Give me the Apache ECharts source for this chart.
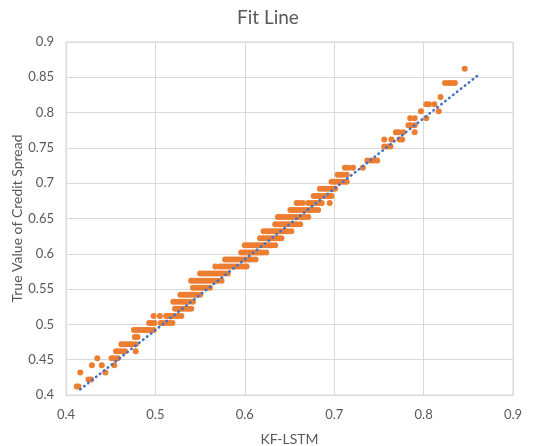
<!DOCTYPE html>
<html>
<head>
<meta charset="utf-8">
<script src="https://cdn.jsdelivr.net/npm/echarts@6/dist/echarts.min.js"></script>
<style>html,body{margin:0;padding:0;background:#fff}#c{width:540px;height:446px}</style>
</head>
<body>
<div id="c"></div>
<script>
// y levels (true value) and the KF-LSTM predictions in each row
const rowLevels = [0.412,0.422,0.432,0.442,0.452,0.462,0.472,0.482,0.492,0.502,0.512,0.522,0.532,0.542,0.552,0.562,0.572,0.582,0.592,0.602,0.612,0.622,0.632,0.642,0.652,0.662,0.672,0.682,0.692,0.702,0.712,0.722,0.732,0.752,0.762,0.772,0.782,0.792,0.802,0.812,0.822,0.842,0.862];
const rowPredictions = [
  [0.412,0.414],
  [0.425,0.428],
  [0.416,0.444],
  [0.429,0.440,0.454],
  [0.435,0.451,0.454,0.458],
  [0.456,0.459,0.462,0.466,0.478],
  [0.462,0.465,0.468,0.471,0.474,0.478],
  [0.477,0.480],
  [0.476,0.479,0.482,0.485,0.488,0.491,0.494,0.498],
  [0.493,0.496,0.499,0.506,0.509,0.512,0.516,0.519],
  [0.498,0.505,0.512,0.515,0.518,0.521,0.525,0.529],
  [0.522,0.525,0.528,0.531,0.534,0.537,0.540],
  [0.520,0.523,0.526,0.529,0.532,0.535,0.538,0.542],
  [0.528,0.531,0.534,0.537,0.540,0.543,0.546,0.550],
  [0.542,0.545,0.548,0.551,0.554,0.557,0.561],
  [0.540,0.543,0.546,0.549,0.552,0.555,0.558,0.561,0.564,0.567,0.570,0.574],
  [0.550,0.553,0.556,0.559,0.562,0.565,0.568,0.571,0.574,0.577,0.581],
  [0.567,0.572,0.575,0.578,0.581,0.584,0.587,0.590,0.593,0.596,0.599,0.602],
  [0.578,0.581,0.584,0.587,0.590,0.593,0.596,0.599,0.602,0.605,0.608,0.612],
  [0.596,0.599,0.602,0.605,0.608,0.611,0.614,0.617,0.620,0.624],
  [0.600,0.603,0.606,0.609,0.612,0.615,0.618,0.621,0.624,0.627,0.630,0.634],
  [0.617,0.620,0.623,0.626,0.629,0.632,0.635,0.638,0.641],
  [0.621,0.624,0.627,0.630,0.633,0.636,0.639,0.642,0.645,0.648,0.652],
  [0.634,0.637,0.640,0.643,0.646,0.649,0.652,0.655,0.658,0.662],
  [0.637,0.640,0.643,0.646,0.649,0.652,0.655,0.658,0.661,0.664,0.667,0.671],
  [0.651,0.654,0.657,0.660,0.663,0.666,0.669,0.672,0.675,0.678,0.682],
  [0.658,0.661,0.665,0.671,0.674,0.677,0.680,0.683,0.686,0.695],
  [0.677,0.680,0.683,0.686,0.689,0.692,0.695,0.697],
  [0.684,0.687,0.690,0.693,0.696,0.699,0.701],
  [0.697,0.700,0.703,0.706,0.709,0.712,0.714],
  [0.704,0.707,0.710,0.714],
  [0.712,0.716,0.721,0.732],
  [0.737,0.741,0.744,0.748],
  [0.756,0.760,0.763],
  [0.756,0.764,0.773,0.776],
  [0.769,0.772,0.777,0.790],
  [0.783,0.786,0.790],
  [0.785,0.790,0.803],
  [0.797,0.817],
  [0.803,0.806,0.812],
  [0.819],
  [0.824,0.828,0.831,0.835],
  [0.846]
];
// fitted trend line end points
const fitX = [0.416, 0.863];
const fitY = [0.408, 0.855];
const axisTicks = [0.4, 0.5, 0.6, 0.7, 0.8, 0.9];

const scatterData = [];
rowLevels.forEach((y, i) => rowPredictions[i].forEach(x => scatterData.push([x, y])));
const fitData = fitX.map((x, i) => [x, fitY[i]]);

const chart = echarts.init(document.getElementById('c'), null, {renderer: 'canvas'});
const font = 'Lato, "Open Sans", sans-serif';
chart.setOption({
  animation: false,
  backgroundColor: '#fff',
  title: {
    text: 'Fit Line', left: 232, top: 3,
    textStyle: {fontFamily: font, fontSize: 19, fontWeight: 'normal', color: '#595959'}
  },
  grid: {left: 66, right: 27, top: 42, bottom: 51, show: true, borderColor: '#d9d9d9', borderWidth: 1,
    outerBoundsMode: 'none', containLabel: false},
  xAxis: {
    type: 'value', min: 0.4, max: 0.9, interval: 0.1,
    name: 'KF-LSTM', nameLocation: 'middle', nameGap: 37, nameMoveOverlap: false,
    nameTextStyle: {fontFamily: font, fontSize: 14, color: '#595959'},
    axisLine: {show: true, lineStyle: {color: '#d9d9d9'}},
    axisTick: {show: false},
    splitLine: {show: true, lineStyle: {color: '#d9d9d9', width: 1}},
    axisLabel: {fontFamily: font, fontSize: 13, color: '#595959', margin: 13,
      formatter: v => { const t = axisTicks.find(a => Math.abs(a - v) < 1e-6); return t === undefined ? '' : String(t); }}
  },
  yAxis: {
    type: 'value', min: 0.4, max: 0.9, interval: 0.05,
    name: 'True Value of Credit Spread', nameLocation: 'middle', nameGap: 42, nameRotate: 90, nameMoveOverlap: false,
    nameTextStyle: {fontFamily: font, fontSize: 14, color: '#595959'},
    axisLine: {show: true, lineStyle: {color: '#d9d9d9'}},
    axisTick: {show: false},
    splitLine: {show: true, lineStyle: {color: '#d9d9d9', width: 1}},
    axisLabel: {fontFamily: font, fontSize: 13, color: '#595959', margin: 12,
      formatter: v => String(+v.toFixed(2))}
  },
  series: [
    {
      type: 'scatter', data: scatterData, symbolSize: 6,
      itemStyle: {color: '#ED7D31', opacity: 1}, z: 2
    },
    {
      type: 'line', data: fitData, symbol: 'none', z: 3,
      lineStyle: {color: '#4472C4', width: 2.6, type: [0.5, 4.5], cap: 'round'}
    }
  ]
});
</script>
</body>
</html>
